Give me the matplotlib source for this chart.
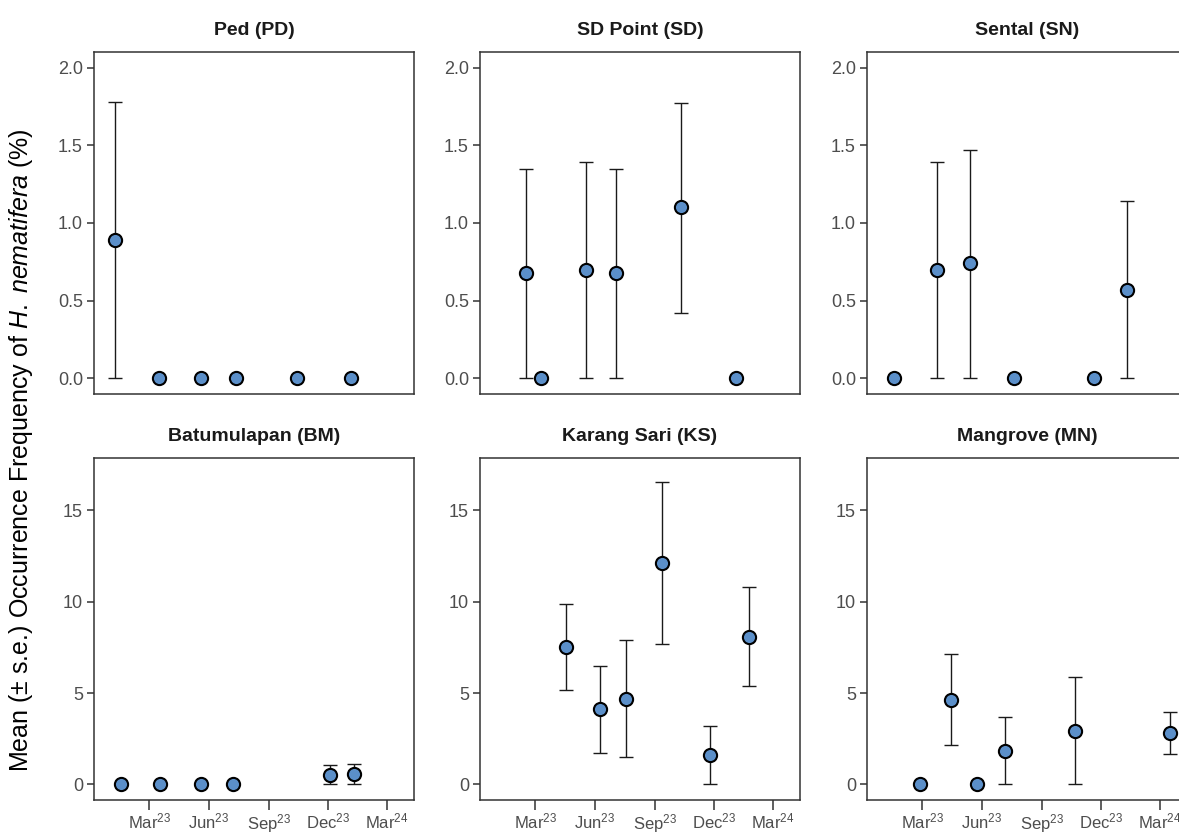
import matplotlib
matplotlib.use('Agg')
import matplotlib.pyplot as plt
import pandas as pd

plt.rcParams['font.family'] = ['Liberation Sans', 'DejaVu Sans']
plt.rcParams['mathtext.fontset'] = 'custom'
plt.rcParams['mathtext.rm'] = 'Liberation Sans'
plt.rcParams['mathtext.it'] = 'Liberation Sans:italic'
plt.rcParams['mathtext.bf'] = 'Liberation Sans:bold'

sites = ['Ped (PD)', 'SD Point (SD)', 'Sental (SN)',
         'Batumulapan (BM)', 'Karang Sari (KS)', 'Mangrove (MN)']

# sampling dates per site
ped_dates = ['2023-01-07', '2023-03-16', '2023-05-20', '2023-07-12', '2023-10-14', '2024-01-06']
sd_dates = ['2023-02-15', '2023-03-10', '2023-05-19', '2023-07-04', '2023-10-12', '2024-01-05']
sn_dates = ['2023-01-16', '2023-03-24', '2023-05-13', '2023-07-20', '2023-11-21', '2024-01-10']
bm_dates = ['2023-01-17', '2023-03-18', '2023-05-20', '2023-07-08', '2023-12-05', '2024-01-10']
ks_dates = ['2023-04-18', '2023-06-09', '2023-07-19', '2023-09-12', '2023-11-25', '2024-01-25']
mn_dates = ['2023-02-26', '2023-04-14', '2023-05-25', '2023-07-07', '2023-10-23', '2024-03-17']

# mean occurrence frequency (%) with lower / upper error limits
ped_mean = [0.89, 0, 0, 0, 0, 0]
ped_lo = [0, 0, 0, 0, 0, 0]
ped_hi = [1.78, 0, 0, 0, 0, 0]

sd_mean = [0.68, 0, 0.70, 0.68, 1.10, 0]
sd_lo = [0, 0, 0, 0, 0.42, 0]
sd_hi = [1.35, 0, 1.39, 1.35, 1.77, 0]

sn_mean = [0, 0.70, 0.74, 0, 0, 0.57]
sn_lo = [0, 0, 0, 0, 0, 0]
sn_hi = [0, 1.39, 1.47, 0, 0, 1.14]

bm_mean = [0, 0, 0, 0, 0.54, 0.56]
bm_lo = [0, 0, 0, 0, 0, 0]
bm_hi = [0, 0, 0, 0, 1.09, 1.10]

ks_mean = [7.52, 4.11, 4.69, 12.10, 1.61, 8.08]
ks_lo = [5.16, 1.70, 1.52, 7.70, 0, 5.38]
ks_hi = [9.89, 6.50, 7.88, 16.54, 3.22, 10.80]

mn_mean = [0, 4.64, 0, 1.85, 2.92, 2.81]
mn_lo = [0, 2.14, 0, 0, 0, 1.65]
mn_hi = [0, 7.14, 0, 3.70, 5.85, 3.95]

all_dates = [ped_dates, sd_dates, sn_dates, bm_dates, ks_dates, mn_dates]
all_mean = [ped_mean, sd_mean, sn_mean, bm_mean, ks_mean, mn_mean]
all_lo = [ped_lo, sd_lo, sn_lo, bm_lo, ks_lo, mn_lo]
all_hi = [ped_hi, sd_hi, sn_hi, bm_hi, ks_hi, mn_hi]

tick_dates = ['2023-03-01', '2023-06-01', '2023-09-01', '2023-12-01', '2024-03-01']
tick_labels = [r'Mar$^{\mathregular{23}}$', r'Jun$^{\mathregular{23}}$', r'Sep$^{\mathregular{23}}$',
               r'Dec$^{\mathregular{23}}$', r'Mar$^{\mathregular{24}}$']

fig = plt.figure(figsize=(11.79, 8.33), dpi=100)

W, H = 1179, 833
lefts = [94, 480, 867]
tops = [52, 458]
pw, ph = 320, 342

for i, name in enumerate(sites):
    row, col = divmod(i, 3)
    ax = fig.add_axes([lefts[col] / W, 1 - (tops[row] + ph) / H, pw / W, ph / H])
    d = pd.to_datetime(all_dates[i])
    m = pd.Series(all_mean[i])
    lo = pd.Series(all_lo[i])
    hi = pd.Series(all_hi[i])
    has_err = (hi > m) | (lo < m)
    ax.errorbar(d[has_err.values], m[has_err], yerr=[m[has_err] - lo[has_err], hi[has_err] - m[has_err]],
                fmt='none', ecolor='#1a1a1a', elinewidth=1.0, capsize=5, capthick=1.0, zorder=2)
    ax.plot(d, m, 'o', ms=9.5, mfc='#5b8fc9', mec='black', mew=1.5, zorder=3)

    ax.set_xlim(pd.Timestamp('2022-12-06'), pd.Timestamp('2024-04-12'))
    if row == 0:
        ax.set_ylim(-0.1, 2.1)
        ax.set_yticks([0, 0.5, 1.0, 1.5, 2.0])
        ax.set_yticklabels(['0.0', '0.5', '1.0', '1.5', '2.0'])
        ax.set_xticks([])
    else:
        ax.set_ylim(-0.85, 17.85)
        ax.set_yticks([0, 5, 10, 15])
        ax.set_xticks(pd.to_datetime(tick_dates))
        ax.set_xticklabels(tick_labels)
    ax.tick_params(axis='both', direction='out', length=5, width=1.1, color='#333333',
                   labelcolor='#4d4d4d', labelsize=13, pad=3)
    ax.tick_params(axis='x', length=7, labelsize=12, pad=1.5)
    for s in ax.spines.values():
        s.set_color('#333333')
        s.set_linewidth(1.1)
    ax.set_title(name, fontsize=14, fontweight='bold', color='#1a1a1a', pad=12)

fig.text(0.018, 0.46, r'Mean ($\pm$ s.e.) Occurrence Frequency of $\it{H.\ nematifera}$ (%)',
         rotation=90, va='center', ha='center', fontsize=18, color='black')

fig.savefig('out.png', dpi=100)
